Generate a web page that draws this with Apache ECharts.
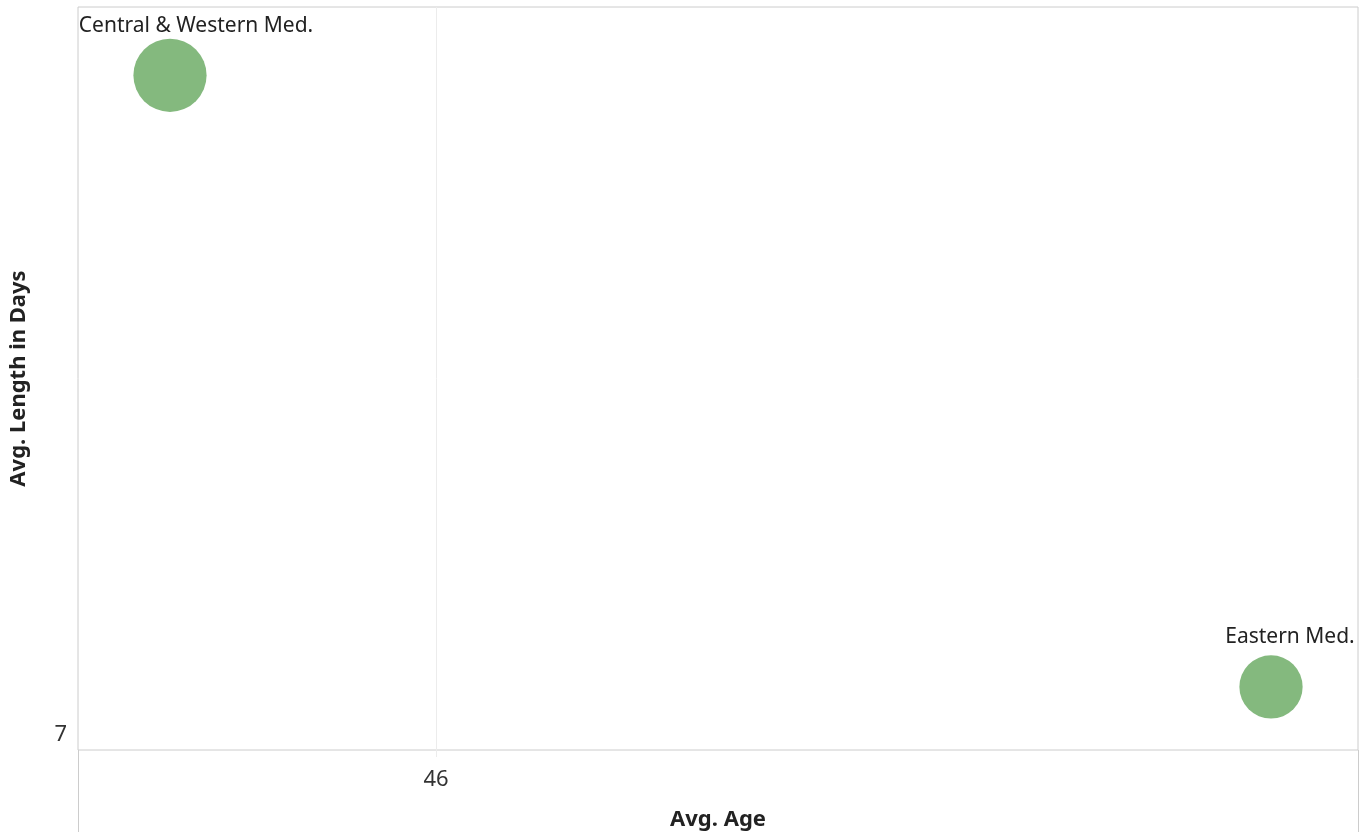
<!DOCTYPE html>
<html>
<head>
<meta charset="utf-8">
<script src="https://cdn.jsdelivr.net/npm/echarts@6/dist/echarts.min.js"></script>
<style>
html,body{margin:0;padding:0;background:#fff;}
#chart{width:1370px;height:832px;}
</style>
</head>
<body>
<div id="chart"></div>
<script>
// Data
const regions = ["Central & Western Med.", "Eastern Med."];
const avgAge = [45.734, 46.835];
const avgLengthDays = [7.879, 7.064];
const recordCount = [1340, 1000];
const xTicks = [46];
const yTicks = [7];
const xRange = [45.642, 46.922];
const yRange = [6.98, 7.97];

const chart = echarts.init(document.getElementById('chart'), null, {renderer: 'canvas'});
const FONT = '"Noto Sans", sans-serif';
const labelStyles = [
  {offset: [26, 0], distance: 2},
  {offset: [19, 0], distance: 8}
];
const data = regions.map((r, i) => ({
  name: r,
  value: [avgAge[i], avgLengthDays[i], recordCount[i]],
  label: labelStyles[i]
}));

chart.setOption({
  backgroundColor: '#ffffff',
  animation: false,
  grid: {left: 78, right: 12, top: 7, bottom: 82, outerBoundsMode: 'none', containLabel: false,
         show: true, borderColor: '#cccccc', borderWidth: 1, backgroundColor: '#fff'},
  xAxis: {
    type: 'value', min: xRange[0], max: xRange[1],
    name: 'Avg. Age', nameLocation: 'middle', nameGap: 59,
    nameTextStyle: {fontFamily: FONT, fontSize: 22, fontWeight: 'bold', color: '#222'},
    axisLine: {show: false},
    axisTick: {show: true, length: 7, customValues: xTicks, lineStyle: {color: '#ececec'}},
    axisLabel: {customValues: xTicks, fontFamily: FONT, fontSize: 22, color: '#333', margin: 19},
    splitLine: {show: true, lineStyle: {color: '#ececec', width: 1}}
  },
  yAxis: {
    type: 'value', min: yRange[0], max: yRange[1],
    name: 'Avg. Length in Days', nameLocation: 'middle', nameGap: 48,
    nameTextStyle: {fontFamily: FONT, fontSize: 22, fontWeight: 'bold', color: '#222'},
    axisLine: {show: false},
    axisTick: {show: false, customValues: yTicks},
    axisLabel: {customValues: yTicks, fontFamily: FONT, fontSize: 22, color: '#333', margin: 11,
                padding: [4, 0, 0, 0]},
    splitLine: {show: false}
  },
  graphic: [
    {type: 'line', shape: {x1: 78.5, y1: 750, x2: 78.5, y2: 832}, style: {stroke: '#cccccc', lineWidth: 1}, silent: true},
    {type: 'line', shape: {x1: 1358.5, y1: 750, x2: 1358.5, y2: 832}, style: {stroke: '#cccccc', lineWidth: 1}, silent: true}
  ],
  series: [{
    type: 'scatter',
    data: data,
    symbolSize: v => Math.sqrt(v[2]) * 2,
    itemStyle: {color: '#84b97e', opacity: 1},
    label: {
      show: true, position: 'top',
      formatter: p => p.name,
      fontFamily: FONT, fontSize: 21, color: '#222'
    }
  }]
});
</script>
</body>
</html>
